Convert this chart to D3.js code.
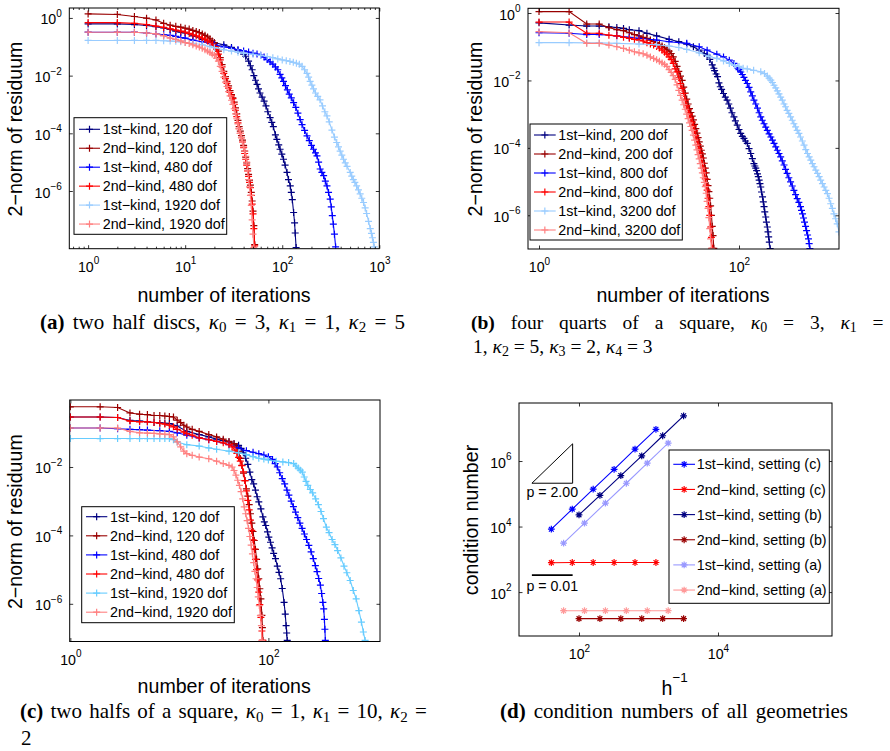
<!DOCTYPE html>
<html>
<head>
<meta charset="utf-8">
<style>
  body { margin: 0; background: #fff; }
  svg { display: block; }
</style>
</head>
<body>
<svg id="fig" width="890" height="751"></svg>
<script src="https://cdnjs.cloudflare.com/ajax/libs/d3/7.8.5/d3.min.js"></script>
<script>
// legend labels
var legendA = ['1st\u2212kind, 120 dof', '2nd\u2212kind, 120 dof', '1st\u2212kind, 480 dof',
               '2nd\u2212kind, 480 dof', '1st\u2212kind, 1920 dof', '2nd\u2212kind, 1920 dof'];
var legendB = ['1st\u2212kind, 200 dof', '2nd\u2212kind, 200 dof', '1st\u2212kind, 800 dof',
               '2nd\u2212kind, 800 dof', '1st\u2212kind, 3200 dof', '2nd\u2212kind, 3200 dof'];
var legendC = legendA;
var legendD = ['1st\u2212kind, setting (c)', '2nd\u2212kind, setting (c)', '1st\u2212kind, setting (b)',
               '2nd\u2212kind, setting (b)', '1st\u2212kind, setting (a)', '2nd\u2212kind, setting (a)'];

// (a) two half discs: [iteration, 2-norm of residuum]
var resA_1st120 = [[1,0.62],[2,0.62],[3,0.59],[4,0.55],[5,0.5],[6,0.45],[7,0.4],[8,0.35],[9,0.32],[10,0.3],[12,0.24],[15,0.18],[18,0.15],[20,0.138],[25,0.117],[30,0.095],[35,0.076],[40,0.056],[42,0.047],[45,0.032],[47,0.022],[49,0.016],[51,0.01],[53,6.9e-3],[55,5e-3],[57,3.5e-3],[59,2.5e-3],[62,1.8e-3],[65,1.3e-3],[68,8.9e-4],[71,5.6e-4],[75,3.5e-4],[78,2.4e-4],[81,1.7e-4],[85,8.9e-5],[88,6.2e-5],[92,4e-5],[95,2.8e-5],[99,1.9e-5],[103,1.26e-5],[107,7.9e-6],[112,4.4e-6],[116,2.5e-6],[121,1.5e-6],[124,8.9e-7],[127,5e-7],[131,1.8e-7],[134,7.9e-8],[136,3.5e-8],[139,1.1e-8]];
var resA_2nd120 = [[1,1.38],[2,1.32],[3,1.12],[4,0.98],[5,0.85],[6,0.65],[7,0.56],[8,0.51],[9,0.48],[10,0.44],[11,0.41],[12,0.37],[13,0.34],[14,0.31],[15,0.28],[16,0.25],[17,0.22],[18,0.19],[19,0.16],[20,0.138],[21,0.105],[22,0.071],[23,0.042],[24,0.024],[25,0.014],[26,9.3e-3],[27,6.3e-3],[28,4.4e-3],[29,3e-3],[30,2.2e-3],[31,1.7e-3],[32,1.2e-3],[33,7.6e-4],[34,4.7e-4],[35,2.8e-4],[36,1.7e-4],[37,1.2e-4],[38,8.3e-5],[39,5.8e-5],[40,3.8e-5],[41,2.4e-5],[42,1.5e-5],[43,9.5e-6],[44,6e-6],[45,3.8e-6],[46,2.4e-6],[47,1.6e-6],[48,8.9e-7],[49,4.5e-7],[50,2e-7],[51,6.3e-8],[52,1.4e-8]];
var resA_1st480 = [[1,0.32],[2,0.32],[3,0.32],[4,0.3],[5,0.28],[6,0.26],[7,0.25],[8,0.23],[9,0.21],[10,0.2],[12,0.17],[15,0.15],[18,0.13],[20,0.117],[25,0.1],[30,0.089],[35,0.079],[40,0.072],[45,0.066],[50,0.06],[55,0.056],[60,0.051],[65,0.044],[70,0.036],[75,0.03],[80,0.025],[85,0.02],[90,0.016],[95,0.011],[99,8.3e-3],[103,6.3e-3],[108,4.5e-3],[113,3.2e-3],[118,2.3e-3],[124,1.7e-3],[131,1.15e-3],[138,7.9e-4],[145,5e-4],[153,3e-4],[160,2e-4],[170,1.26e-4],[180,8.1e-5],[190,5.6e-5],[200,3.8e-5],[210,2.8e-5],[220,2.1e-5],[228,1.66e-5],[237,1e-5],[246,5.8e-6],[256,4.4e-6],[267,3.4e-6],[278,2.2e-6],[289,1.5e-6],[300,8.9e-7],[312,5.2e-7],[320,2.8e-7],[328,1.4e-7],[336,7.1e-8],[345,3.2e-8],[355,1.15e-8]];
var resA_2nd480 = [[1,0.69],[2,0.69],[3,0.65],[4,0.59],[5,0.52],[6,0.47],[7,0.42],[8,0.38],[9,0.35],[10,0.32],[11,0.29],[12,0.26],[13,0.24],[14,0.22],[15,0.2],[16,0.18],[17,0.16],[18,0.138],[19,0.12],[20,0.102],[21,0.083],[22,0.056],[23,0.035],[24,0.02],[25,0.012],[26,7.9e-3],[27,5.4e-3],[28,3.7e-3],[29,2.6e-3],[30,2e-3],[31,1.6e-3],[32,1e-3],[33,6.3e-4],[34,3.8e-4],[35,2.3e-4],[36,1.45e-4],[37,1e-4],[38,7.1e-5],[39,5e-5],[40,3.2e-5],[41,2e-5],[42,1.26e-5],[43,7.9e-6],[44,5e-6],[45,3.2e-6],[46,2e-6],[47,1.3e-6],[48,7.1e-7],[49,3.5e-7],[50,1.6e-7],[51,5e-8],[52,1.26e-8]];
var resA_1st1920 = [[1,0.166],[2,0.166],[3,0.166],[4,0.166],[5,0.166],[6,0.162],[7,0.158],[8,0.155],[9,0.148],[10,0.141],[12,0.132],[15,0.117],[18,0.102],[20,0.093],[25,0.079],[30,0.071],[35,0.065],[40,0.06],[50,0.055],[60,0.05],[70,0.046],[80,0.042],[90,0.038],[100,0.035],[110,0.033],[120,0.031],[130,0.029],[140,0.027],[150,0.025],[160,0.021],[170,0.016],[180,0.012],[187,8.9e-3],[194,6.3e-3],[202,4.7e-3],[210,3.5e-3],[220,2.5e-3],[232,1.9e-3],[245,1.45e-3],[260,8.9e-4],[275,5.6e-4],[289,4e-4],[305,2.5e-4],[325,1.3e-4],[345,7.4e-5],[364,4.8e-5],[380,3.4e-5],[395,2.4e-5],[411,1.74e-5],[428,1.26e-5],[446,9.5e-6],[465,7.2e-6],[502,4.4e-6],[520,3.3e-6],[540,2.5e-6],[560,2e-6],[584,1.5e-6],[610,1.1e-6],[635,7.9e-7],[660,5.6e-7],[688,4e-7],[715,2.6e-7],[740,1.66e-7],[775,8.9e-8],[807,5e-8],[830,3.4e-8],[850,2.4e-8],[870,1.66e-8],[888,1.15e-8]];
var resA_2nd1920 = [[1,0.32],[2,0.32],[3,0.32],[4,0.3],[5,0.28],[6,0.24],[7,0.2],[8,0.18],[9,0.16],[10,0.14],[11,0.13],[12,0.117],[13,0.107],[14,0.098],[15,0.089],[16,0.079],[17,0.071],[18,0.063],[19,0.056],[20,0.05],[21,0.04],[22,0.032],[23,0.021],[24,0.014],[25,8.9e-3],[26,6e-3],[27,4.2e-3],[28,2.8e-3],[29,2e-3],[30,1.4e-3],[31,1e-3],[32,7.1e-4],[33,4.7e-4],[34,3.2e-4],[35,2.1e-4],[36,1.45e-4],[37,1e-4],[38,7.1e-5],[39,5e-5],[40,3.4e-5],[41,2.4e-5],[42,1.6e-5],[43,1e-5],[44,5e-6],[45,2.5e-6],[46,1.4e-6],[47,7.1e-7],[48,3.2e-7],[49,1e-7],[50,3.2e-8],[51,1.1e-8]];

// (b) four quarts of a square
var resB_1st200 = [[1,0.51],[2,0.44],[3,0.41],[4,0.41],[5,0.39],[6,0.37],[7,0.35],[8,0.32],[10,0.3],[12,0.25],[15,0.21],[20,0.166],[25,0.141],[30,0.12],[35,0.1],[40,0.079],[45,0.063],[48,0.056],[51,0.042],[54,0.029],[56,0.023],[57,0.0195],[59,0.0155],[61,0.013],[63,8.5e-3],[65,6.5e-3],[67,5.4e-3],[70,4.1e-3],[73,3.2e-3],[76,2.6e-3],[79,2e-3],[82,1.5e-3],[85,1.1e-3],[89,8.3e-4],[92,6.3e-4],[96,4.7e-4],[100,3.5e-4],[104,2.7e-4],[108,2.2e-4],[112,1.9e-4],[116,1.6e-4],[121,1.35e-4],[126,9.5e-5],[131,6.8e-5],[136,4.8e-5],[141,3.4e-5],[144,2.9e-5],[147,2.5e-5],[150,2.1e-5],[153,1.7e-5],[156,1.4e-5],[159,1.1e-5],[162,8.7e-6],[165,6.9e-6],[168,4.9e-6],[172,3.5e-6],[175,2.5e-6],[178,1.8e-6],[181,1.26e-6],[185,8.9e-7],[188,6.3e-7],[192,4.5e-7],[195,3.2e-7],[198,2.3e-7],[201,1.6e-7],[205,1.02e-7]];
var resB_2nd200 = [[1,1.1],[2,1.1],[3,0.47],[4,0.47],[5,0.37],[6,0.32],[7,0.3],[8,0.26],[9,0.23],[10,0.21],[11,0.19],[12,0.178],[13,0.158],[14,0.141],[15,0.132],[16,0.117],[17,0.105],[18,0.093],[19,0.083],[20,0.074],[21,0.063],[22,0.05],[23,0.037],[24,0.026],[25,0.0186],[26,0.0135],[27,0.01],[28,6.3e-3],[29,4.2e-3],[30,2.8e-3],[31,2e-3],[32,1.45e-3],[33,1.12e-3],[34,8.7e-4],[35,6.8e-4],[36,5e-4],[37,3.7e-4],[38,2.75e-4],[39,2e-4],[40,1.5e-4],[41,1.12e-4],[42,8.5e-5],[43,6.6e-5],[44,5e-5],[45,3.5e-5],[46,2.5e-5],[47,1.8e-5],[48,1.17e-5],[49,7.6e-6],[50,5e-6],[51,3.2e-6],[52,1.9e-6],[53,1e-6],[54,4.7e-7],[55,2.5e-7],[56,1.05e-7]];
var resB_1st800 = [[1,0.26],[2,0.25],[3,0.23],[4,0.23],[6,0.21],[8,0.19],[10,0.178],[15,0.158],[20,0.141],[30,0.126],[40,0.1],[48,0.079],[60,0.06],[70,0.05],[80,0.04],[89,0.032],[97,0.023],[100,0.021],[104,0.018],[108,0.015],[112,0.0123],[116,0.01],[121,8.1e-3],[126,6.2e-3],[131,4.6e-3],[136,3.5e-3],[141,2.6e-3],[147,2e-3],[153,1.5e-3],[159,1.1e-3],[165,8.3e-4],[171,6.6e-4],[178,5.2e-4],[185,4.1e-4],[192,3.3e-4],[200,2.6e-4],[208,2.1e-4],[216,1.7e-4],[224,1.35e-4],[233,1.07e-4],[242,8.5e-5],[251,6.8e-5],[261,5.4e-5],[271,4.1e-5],[282,3.1e-5],[292,2.3e-5],[303,1.74e-5],[315,1.3e-5],[328,9.8e-6],[341,7.4e-6],[354,5.5e-6],[368,4.1e-6],[382,3.1e-6],[397,2.4e-6],[412,1.8e-6],[422,1.4e-6],[432,1.1e-6],[442,8.3e-7],[452,6.3e-7],[463,4.7e-7],[474,3.5e-7],[485,2.6e-7],[495,2e-7],[503,1.45e-7],[512,1.02e-7]];
var resB_2nd800 = [[1,0.54],[2,0.54],[3,0.25],[4,0.25],[5,0.22],[6,0.21],[7,0.19],[8,0.178],[9,0.166],[10,0.158],[11,0.148],[12,0.132],[13,0.12],[14,0.112],[15,0.102],[16,0.091],[17,0.079],[18,0.069],[19,0.06],[20,0.05],[21,0.042],[22,0.032],[23,0.022],[24,0.018],[25,0.012],[26,8.1e-3],[27,5.8e-3],[28,4.1e-3],[29,2.6e-3],[30,1.8e-3],[31,1.35e-3],[32,1e-3],[33,7.6e-4],[34,5.8e-4],[35,4.5e-4],[36,3.2e-4],[37,2.3e-4],[38,1.74e-4],[39,1.26e-4],[40,9.3e-5],[41,7.1e-5],[42,5e-5],[43,3.5e-5],[44,2.5e-5],[45,1.8e-5],[46,1.2e-5],[47,7.9e-6],[48,5.6e-6],[49,3.2e-6],[50,1.8e-6],[51,1e-6],[52,4.5e-7],[53,2.2e-7],[54,1.05e-7]];
var resB_1st3200 = [[1,0.132],[2,0.132],[3,0.13],[4,0.13],[6,0.126],[10,0.12],[15,0.115],[20,0.105],[25,0.095],[30,0.083],[40,0.066],[50,0.052],[60,0.045],[70,0.038],[80,0.032],[90,0.028],[100,0.026],[110,0.023],[121,0.022],[140,0.02],[165,0.018],[180,0.016],[192,0.0135],[200,0.0117],[208,0.0102],[216,8.7e-3],[224,7.2e-3],[233,6e-3],[242,4.9e-3],[251,4e-3],[261,3.2e-3],[271,2.6e-3],[282,2e-3],[292,1.66e-3],[303,1.3e-3],[315,1.05e-3],[328,8.3e-4],[341,6.6e-4],[354,5.2e-4],[368,4.2e-4],[382,3.3e-4],[397,2.7e-4],[412,2.1e-4],[430,1.6e-4],[447,1.2e-4],[465,8.9e-5],[484,6.8e-5],[503,5.4e-5],[522,4.3e-5],[542,3.4e-5],[563,2.75e-5],[586,2.2e-5],[610,1.74e-5],[633,1.4e-5],[656,1.1e-5],[683,8.7e-6],[710,6.9e-6],[738,5.5e-6],[766,4.4e-6],[796,3.2e-6],[826,2.2e-6],[858,1.6e-6],[890,1.1e-6],[925,7.9e-7],[960,5.6e-7],[1000,3.2e-7]];
var resB_2nd3200 = [[1,0.28],[2,0.26],[3,0.126],[4,0.126],[5,0.112],[6,0.1],[7,0.089],[8,0.079],[9,0.071],[10,0.066],[11,0.062],[12,0.056],[13,0.05],[14,0.045],[15,0.041],[16,0.037],[17,0.033],[18,0.03],[19,0.026],[20,0.021],[21,0.0174],[22,0.0138],[23,0.0107],[24,7.4e-3],[25,5.1e-3],[26,3.6e-3],[27,2.6e-3],[28,1.9e-3],[29,1.4e-3],[30,1e-3],[31,7.4e-4],[32,5.5e-4],[33,4.3e-4],[34,3.3e-4],[35,2.4e-4],[36,1.7e-4],[37,1.2e-4],[38,8.7e-5],[39,6.3e-5],[40,4.7e-5],[41,3.4e-5],[42,2.5e-5],[43,1.8e-5],[44,1.3e-5],[45,9.5e-6],[46,7.1e-6],[47,4.5e-6],[48,2.6e-6],[49,1.6e-6],[50,8.5e-7],[51,4e-7],[52,2e-7],[53,1.05e-7]];

// (c) two halfs of a square
var resC_1st120 = [[1,0.29],[2,0.29],[3,0.28],[4,0.23],[5,0.22],[6,0.21],[7,0.2],[8,0.195],[9,0.19],[10,0.186],[12,0.158],[15,0.11],[20,0.089],[25,0.076],[30,0.065],[35,0.059],[40,0.054],[45,0.048],[50,0.043],[53,0.035],[56,0.026],[59,0.018],[62,0.012],[65,7.1e-3],[68,4.3e-3],[71,3.2e-3],[74,2.1e-3],[77,1.35e-3],[80,9.5e-4],[84,6e-4],[88,3.5e-4],[91,2.5e-4],[94,1.95e-4],[98,1.26e-4],[101,8.9e-5],[105,6.3e-5],[109,4.3e-5],[113,3e-5],[118,2.1e-5],[123,1.26e-5],[128,8.3e-6],[133,5.4e-6],[138,2.8e-6],[144,1.1e-6],[148,5e-7],[151,2.3e-7],[153,1.4e-7],[155,8.5e-8]];
var resC_2nd120 = [[1,0.575],[2,0.575],[3,0.55],[4,0.38],[5,0.35],[6,0.34],[7,0.32],[8,0.32],[9,0.31],[10,0.3],[11,0.29],[12,0.234],[13,0.2],[14,0.166],[15,0.148],[17,0.126],[20,0.11],[25,0.089],[30,0.076],[35,0.065],[40,0.056],[45,0.048],[48,0.039],[50,0.0275],[52,0.0178],[54,0.0112],[56,6.6e-3],[58,4e-3],[60,2.3e-3],[62,1.4e-3],[64,7.9e-4],[66,4.3e-4],[68,2.3e-4],[70,1.3e-4],[72,7.1e-5],[74,3.9e-5],[76,2e-5],[78,1.05e-5],[80,5.4e-6],[82,2.75e-6],[84,1.4e-6],[86,4.6e-7],[87,2e-7],[88,8.5e-8]];
var resC_1st480 = [[1,0.138],[2,0.138],[3,0.132],[4,0.126],[5,0.123],[6,0.12],[8,0.115],[10,0.11],[12,0.1],[15,0.085],[20,0.071],[25,0.063],[30,0.056],[40,0.045],[50,0.036],[60,0.03],[70,0.027],[80,0.0245],[90,0.0224],[100,0.02],[110,0.0166],[117,0.0126],[123,0.01],[130,6.8e-3],[138,4.6e-3],[146,3.2e-3],[154,2.1e-3],[161,1.5e-3],[170,1e-3],[179,6.9e-4],[188,4.8e-4],[198,3.3e-4],[208,2.3e-4],[219,1.6e-4],[231,1.1e-4],[243,7.6e-5],[256,5.1e-5],[270,3.3e-5],[284,2.1e-5],[298,1.3e-5],[310,8.7e-6],[322,5.5e-6],[335,3.5e-6],[345,2e-6],[355,1.1e-6],[362,7.1e-7],[368,3.5e-7],[372,1.8e-7],[376,8.5e-8]];
var resC_2nd480 = [[1,0.29],[2,0.29],[3,0.28],[4,0.22],[5,0.21],[6,0.21],[7,0.2],[8,0.19],[9,0.18],[10,0.166],[11,0.15],[12,0.126],[14,0.105],[15,0.095],[17,0.085],[20,0.071],[25,0.063],[30,0.056],[35,0.051],[40,0.045],[43,0.039],[46,0.031],[48,0.025],[50,0.019],[52,0.0148],[54,0.011],[56,7.2e-3],[58,4e-3],[60,2e-3],[62,1.05e-3],[64,5.6e-4],[66,2.8e-4],[68,1.4e-4],[70,7.4e-5],[72,4e-5],[74,2e-5],[76,1e-5],[78,5e-6],[80,2.2e-6],[82,9.5e-7],[84,4e-7],[86,1.6e-7],[87,8.5e-8]];
var resC_1st1920 = [[1,0.068],[2,0.068],[3,0.068],[4,0.068],[5,0.068],[6,0.068],[7,0.068],[8,0.068],[9,0.068],[10,0.068],[11,0.063],[12,0.054],[15,0.045],[20,0.041],[25,0.036],[30,0.033],[40,0.029],[50,0.026],[60,0.023],[70,0.02],[80,0.018],[90,0.017],[100,0.016],[120,0.0148],[140,0.0141],[160,0.0135],[180,0.0126],[190,0.0107],[200,9.3e-3],[210,8.1e-3],[220,7.1e-3],[230,5.1e-3],[240,3.8e-3],[250,2.9e-3],[265,2.2e-3],[280,1.74e-3],[300,1.17e-3],[320,7.9e-4],[340,5e-4],[360,3.1e-4],[385,1.74e-4],[410,1.2e-4],[440,7.6e-5],[470,5.4e-5],[500,3.6e-5],[540,2.2e-5],[580,1.26e-5],[620,8.1e-6],[670,4.8e-6],[720,2.45e-6],[770,1.4e-6],[820,6.3e-7],[870,2.9e-7],[910,1.5e-7],[948,8.5e-8]];
var resC_2nd1920 = [[1,0.138],[2,0.138],[3,0.138],[4,0.11],[5,0.1],[6,0.098],[7,0.096],[8,0.093],[9,0.091],[10,0.089],[11,0.076],[12,0.054],[13,0.039],[14,0.029],[15,0.0245],[17,0.022],[20,0.0195],[25,0.0174],[30,0.0148],[35,0.0126],[40,0.0112],[43,0.01],[45,7.9e-3],[47,5.8e-3],[49,4.1e-3],[51,2.9e-3],[53,1.9e-3],[55,1.17e-3],[57,6.8e-4],[59,4.3e-4],[61,2.7e-4],[63,1.6e-4],[65,9.3e-5],[67,5.2e-5],[69,2.9e-5],[71,1.6e-5],[73,8.9e-6],[75,5.4e-6],[77,3e-6],[79,1.6e-6],[81,8.9e-7],[83,4.6e-7],[85,2.3e-7],[86,8.5e-8]];

// (d) condition numbers against h^-1
var hInvC = [40, 80, 160, 320, 640, 1280];
var hInvB = [100, 200, 400, 800, 1600, 3200];
var hInvA = [60, 120, 240, 480, 960, 1920];
var condFirstC  = [8.3e3, 3.4e4, 1.38e5, 5.6e5, 2.3e6, 9.3e6];
var condSecondC = [790, 800, 800, 800, 800, 800];
var condFirstB  = [2.27e4, 8.9e4, 3.6e5, 1.44e6, 5.9e6, 2.4e7];
var condSecondB = [15.5, 15.5, 15.5, 15.5, 15.5, 15.5];
var condFirstA  = [3.1e3, 1.27e4, 5.2e4, 2.1e5, 8.6e5, 3.5e6];
var condSecondA = [27, 27, 27, 27, 27, 27];
var slopeTriangle = [[21, 2.1e5], [81, 2.1e5], [81, 3.35e6]];
var slopeFlat = [[21, 330], [81, 330]];
var slopeLabels = ['p = 2.00', 'p = 0.01'];

var coloursA = ['#000080', '#990000', '#0000ff', '#ff0000', '#99ccff', '#ff8080'];
var coloursC = ['#000080', '#990000', '#0000ff', '#ff0000', '#66ccff', '#ff8080'];
var coloursD = ['#0000ff', '#ff0000', '#000080', '#990000', '#9999ff', '#ff9999'];

var SANS = '"Liberation Sans", Arial, Helvetica, sans-serif';
var SERIF = '"Liberation Serif", "Times New Roman", serif';
var PLUS = 'M-3.5,0H3.5M0,-3.5V3.5';
var STAR = 'M-3.4,0H3.4M0,-3.4V3.4M-2.4,-2.4L2.4,2.4M-2.4,2.4L2.4,-2.4';

var svg = d3.select('#fig');
svg.append('rect').attr('width', 890).attr('height', 751).attr('fill', '#fff');

function expLabel(text, d) {
  var e = Math.round(Math.log10(d));
  text.text(null);
  text.append('tspan').text('10');
  text.append('tspan').attr('dy', -7.5).attr('font-size', 10)
    .text(e < 0 ? '\u2212' + (-e) : String(e));
}

function tickAxis(g, axis, transform, values, size) {
  var a = g.append('g').attr('transform', transform)
    .call(axis.tickValues(values).tickSizeInner(-size).tickSizeOuter(0)
      .tickFormat(function() { return ''; }));
  a.select('.domain').remove();
  a.selectAll('.tick line').attr('stroke', '#000').attr('stroke-width', 0.8);
  return a;
}

function drawPanel(p) {
  var g = svg.append('g');
  var x = d3.scaleLog().domain(p.xDomain).range([p.x0, p.x1]);
  var y = d3.scaleLog().domain(p.yDomain).range([p.y1, p.y0]);

  g.append('clipPath').attr('id', 'clip-' + p.id).append('rect')
    .attr('x', p.x0).attr('y', p.y0).attr('width', p.x1 - p.x0).attr('height', p.y1 - p.y0);

  var plot = g.append('g').attr('clip-path', 'url(#clip-' + p.id + ')');
  var line = d3.line().x(function(d) { return x(d[0]); }).y(function(d) { return y(d[1]); });

  p.series.forEach(function(s, i) {
    var c = p.colours[i];
    plot.append('path').datum(s).attr('d', line)
      .attr('fill', 'none').attr('stroke', c).attr('stroke-width', 1.1);
    plot.append('g').selectAll('path').data(s).enter().append('path')
      .attr('transform', function(d) { return 'translate(' + x(d[0]) + ',' + y(d[1]) + ')'; })
      .attr('d', p.marker).attr('fill', 'none').attr('stroke', c).attr('stroke-width', 1.2);
  });

  if (p.extra) p.extra(g, x, y);

  // ticks on all four sides, labels bottom and left
  var bx = tickAxis(g, d3.axisBottom(x), 'translate(0,' + p.y1 + ')', p.xTicks, 3.5);
  tickAxis(g, d3.axisTop(x), 'translate(0,' + p.y0 + ')', p.xTicks, 3.5);
  var ly = tickAxis(g, d3.axisLeft(y), 'translate(' + p.x0 + ',0)', p.yTicks, 3.5);
  tickAxis(g, d3.axisRight(y), 'translate(' + p.x1 + ',0)', p.yTicks, 3.5);

  bx.selectAll('.tick text').attr('y', 23).attr('dy', null)
    .attr('font-size', 14.2).attr('font-family', SANS).attr('fill', '#000')
    .each(function(d) { expLabel(d3.select(this), d); });
  ly.selectAll('.tick text').attr('x', -7.5).attr('y', 6).attr('dy', null)
    .attr('font-size', 14.2).attr('font-family', SANS).attr('fill', '#000')
    .each(function(d) { expLabel(d3.select(this), d); });

  if (p.minorX) {
    var minors = [];
    for (var e = -1; e < 3; e++) {
      for (var k = 2; k < 10; k++) {
        var v = k * Math.pow(10, e);
        if (v > p.xDomain[0] && v < p.xDomain[1]) minors.push(v);
      }
    }
    tickAxis(g, d3.axisBottom(x), 'translate(0,' + p.y1 + ')', minors, 2);
    tickAxis(g, d3.axisTop(x), 'translate(0,' + p.y0 + ')', minors, 2);
  }

  g.append('rect').attr('x', p.x0).attr('y', p.y0)
    .attr('width', p.x1 - p.x0).attr('height', p.y1 - p.y0)
    .attr('fill', 'none').attr('stroke', '#000').attr('stroke-width', 1);

  // axis titles
  g.append('text')
    .attr('transform', 'translate(' + p.yTitlePos[0] + ',' + p.yTitlePos[1] + ') rotate(-90)')
    .attr('text-anchor', 'middle').attr('font-size', 19.6).attr('font-family', SANS)
    .text(p.yTitle);
  var xt = g.append('text').attr('x', p.xTitlePos[0]).attr('y', p.xTitlePos[1])
    .attr('text-anchor', p.xTitleSup ? 'start' : 'middle')
    .attr('font-size', 19.6).attr('font-family', SANS);
  xt.append('tspan').text(p.xTitle);
  if (p.xTitleSup) xt.append('tspan').attr('dy', -13).attr('font-size', 13.5).text(p.xTitleSup);

  // legend
  var L = p.legend;
  var lg = g.append('g');
  lg.append('rect').attr('x', L.x).attr('y', L.y).attr('width', L.w).attr('height', L.h)
    .attr('fill', '#fff').attr('stroke', '#000').attr('stroke-width', 1);
  p.labels.forEach(function(lab, i) {
    var cy = L.row0 + i * L.dy;
    lg.append('line').attr('x1', L.l0).attr('x2', L.l1).attr('y1', cy).attr('y2', cy)
      .attr('stroke', p.colours[i]).attr('stroke-width', 1.1);
    lg.append('path').attr('d', p.marker)
      .attr('transform', 'translate(' + (L.l0 + L.l1) / 2 + ',' + cy + ')')
      .attr('fill', 'none').attr('stroke', p.colours[i]).attr('stroke-width', 1.2);
    lg.append('text').attr('x', L.tx).attr('y', cy).attr('dy', '0.36em')
      .attr('font-size', 14.3).attr('font-family', SANS).text(lab);
  });
}

var iterTitle = 'number of iterations';
var resTitle = '2\u2212norm of residuum';

drawPanel({
  id: 'a', x0: 69.3, x1: 379.3, y0: 8, y1: 248.7,
  xDomain: [0.64, 1000], yDomain: [1e-8, 2.21],
  xTicks: [1, 10, 100, 1000], yTicks: [1e-6, 1e-4, 1e-2, 1], minorX: true,
  marker: PLUS, colours: coloursA, labels: legendA,
  series: [resA_1st120, resA_2nd120, resA_1st480, resA_2nd480, resA_1st1920, resA_2nd1920],
  legend: { x: 74, y: 117.7, w: 152.7, h: 116.6, row0: 129.3, dy: 18.95, l0: 79, l1: 100, tx: 102.7 },
  yTitle: resTitle, yTitlePos: [21.5, 129], xTitle: iterTitle, xTitlePos: [224, 301.5]
});

drawPanel({
  id: 'b', x0: 528, x1: 839, y0: 8.3, y1: 249,
  xDomain: [0.776, 1000], yDomain: [1e-7, 1.38],
  xTicks: [1, 100], yTicks: [1e-6, 1e-4, 1e-2, 1],
  marker: PLUS, colours: coloursA, labels: legendB,
  series: [resB_1st200, resB_2nd200, resB_1st800, resB_2nd800, resB_1st3200, resB_2nd3200],
  legend: { x: 530, y: 124, w: 152.3, h: 116, row0: 135, dy: 19, l0: 534, l1: 555.7, tx: 558.3 },
  yTitle: resTitle, yTitlePos: [481.5, 129], xTitle: iterTitle, xTitlePos: [683, 301.7]
});

drawPanel({
  id: 'c', x0: 69.7, x1: 380, y0: 400, y1: 641.5,
  xDomain: [0.985, 1340], yDomain: [7.9e-8, 0.91],
  xTicks: [1, 100], yTicks: [1e-6, 1e-4, 1e-2],
  marker: PLUS, colours: coloursC, labels: legendC,
  series: [resC_1st120, resC_2nd120, resC_1st480, resC_2nd480, resC_1st1920, resC_2nd1920],
  legend: { x: 81.7, y: 506.7, w: 152.6, h: 116, row0: 516.7, dy: 19.1, l0: 86, l1: 107.3, tx: 110 },
  yTitle: resTitle, yTitlePos: [21.5, 521.7], xTitle: iterTitle, xTitlePos: [224.2, 693.3]
});

drawPanel({
  id: 'd', x0: 519, x1: 832, y0: 403, y1: 636,
  xDomain: [13.7, 4.37e5], yDomain: [4.57, 5.9e7],
  xTicks: [100, 1e4], yTicks: [100, 1e4, 1e6],
  marker: STAR, colours: coloursD, labels: legendD,
  series: [d3.zip(hInvC, condFirstC), d3.zip(hInvC, condSecondC),
           d3.zip(hInvB, condFirstB), d3.zip(hInvB, condSecondB),
           d3.zip(hInvA, condFirstA), d3.zip(hInvA, condSecondA)],
  legend: { x: 669, y: 450, w: 160.3, h: 153.3, row0: 464.3, dy: 25.15, l0: 673.3, l1: 695, tx: 696.7 },
  yTitle: 'condition number', yTitlePos: [478.3, 520],
  xTitle: 'h', xTitleSup: '\u22121', xTitlePos: [661.5, 695],
  extra: function(g, x, y) {
    var ln = d3.line().x(function(d) { return x(d[0]); }).y(function(d) { return y(d[1]); });
    g.append('path').attr('d', ln(slopeTriangle) + 'Z')
      .attr('fill', 'none').attr('stroke', '#000').attr('stroke-width', 1);
    g.append('path').attr('d', ln(slopeFlat))
      .attr('fill', 'none').attr('stroke', '#000').attr('stroke-width', 1.6);
    g.append('text').attr('x', x(slopeTriangle[0][0]) - 5.5).attr('y', y(slopeTriangle[0][1]) + 14)
      .attr('font-size', 14.2).attr('font-family', SANS).text(slopeLabels[0]);
    g.append('text').attr('x', x(slopeFlat[0][0]) - 5.5).attr('y', y(slopeFlat[0][1]) + 16.2)
      .attr('font-size', 14.2).attr('font-family', SANS).text(slopeLabels[1]);
  }
});

// captions
function kappa(n) { return [['i', '\u03ba'], ['s', n]]; }

function caption(x, y, segs, width, size) {
  var fs = size || 21;
  var sub = Math.round(fs * 0.7), drop = fs * 0.18;
  var t = svg.append('text').attr('x', x).attr('y', y)
    .attr('font-family', SERIF).attr('font-size', fs).style('white-space', 'pre');
  var shifted = false;
  segs.forEach(function(s) {
    var ts = t.append('tspan').text(s[1]);
    if (s[0] === 'b') ts.attr('font-weight', 'bold');
    if (s[0] === 'i') ts.attr('font-style', 'italic');
    if (s[0] === 's') { ts.attr('font-size', sub).attr('dy', drop); shifted = true; }
    else if (shifted) { ts.attr('dy', -drop); shifted = false; }
  });
  if (width) {
    var natural = t.node().getComputedTextLength();
    var spaces = t.text().split(' ').length - 1;
    if (spaces > 0) t.style('word-spacing', ((width - natural) / spaces) + 'px');
  }
}

caption(40, 328.5, [['b', '(a)'], ['r', ' two half discs, ']].concat(kappa('0'), [['r', ' = 3, ']],
  kappa('1'), [['r', ' = 1, ']], kappa('2'), [['r', ' = 5']]), 365);
caption(471, 328.5, [['b', '(b)'], ['r', ' four quarts of a square, ']].concat(kappa('0'), [['r', ' = 3, ']],
  kappa('1'), [['r', ' =']]), 412.6, 19.5);
caption(473, 352.5, [['r', '1, ']].concat(kappa('2'), [['r', ' = 5, ']], kappa('3'), [['r', ' = 2, ']],
  kappa('4'), [['r', ' = 3']]), null, 19.5);
caption(20, 718.3, [['b', '(c)'], ['r', ' two halfs of a square, ']].concat(kappa('0'), [['r', ' = 1, ']],
  kappa('1'), [['r', ' = 10, ']], kappa('2'), [['r', ' =']]), 406.7);
caption(21, 745, [['r', '2']], null);
caption(500, 718.3, [['b', '(d)'], ['r', ' condition numbers of all geometries']], 348);
</script>
</body>
</html>
